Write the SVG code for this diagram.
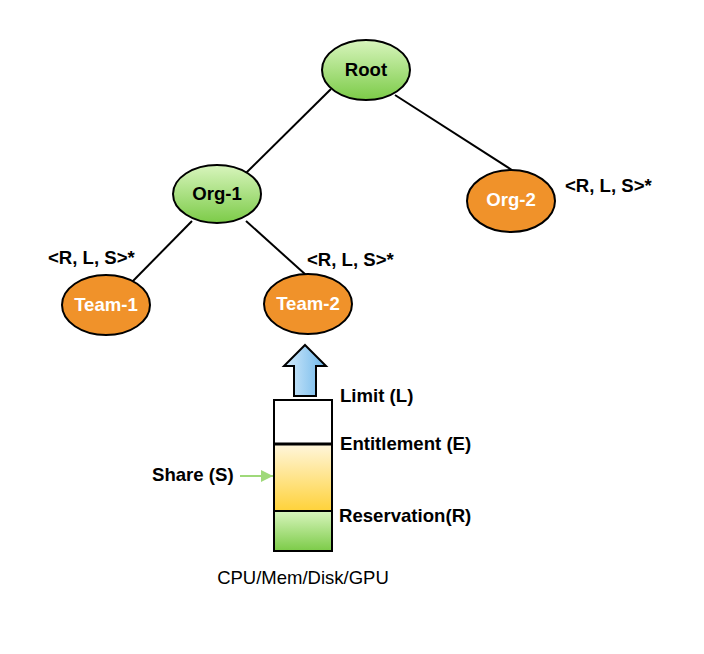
<svg xmlns="http://www.w3.org/2000/svg" width="704" height="654" viewBox="0 0 704 654">
<defs>
<linearGradient id="gGreen" x1="0" y1="0" x2="0" y2="1"><stop offset="0" stop-color="#d8f5bd"/><stop offset="1" stop-color="#7ccb48"/></linearGradient>
<linearGradient id="gYellow" x1="0" y1="0" x2="0" y2="1"><stop offset="0" stop-color="#fff6dc"/><stop offset="1" stop-color="#ffd23a"/></linearGradient>
<linearGradient id="gBlue" x1="0" y1="0" x2="1" y2="0"><stop offset="0" stop-color="#d6ecfb"/><stop offset="1" stop-color="#6db6ea"/></linearGradient>
<marker id="gArrow" viewBox="0 0 10 10" refX="10" refY="5" markerWidth="12" markerHeight="12" markerUnits="userSpaceOnUse" orient="auto"><path d="M0,0 L10,5 L0,10 z" fill="#9fd97a"/></marker>
</defs>
<style>
.node{stroke:#000;stroke-width:2}
.green{fill:url(#gGreen)}
.orange{fill:#f0922a}
.t{font-family:"Liberation Sans",Arial,sans-serif;font-size:18.6px;font-weight:bold}
.dark{fill:#000}
.white{fill:#fff}
.conn{stroke:#000;stroke-width:2;fill:none}
</style>
<rect width="704" height="654" fill="#fff"/>
<g id="connectors">
<line class="conn" x1="331" y1="89" x2="246" y2="173"/>
<line class="conn" x1="395" y1="95" x2="512" y2="170"/>
<line class="conn" x1="192" y1="221" x2="131" y2="283"/>
<line class="conn" x1="246" y1="221" x2="306" y2="275"/>
<line x1="240" y1="476" x2="273" y2="476" stroke="#9fd97a" stroke-width="2" marker-end="url(#gArrow)"/>
</g>
<g id="root"><ellipse class="node green" cx="366" cy="70" rx="44" ry="30"/><text class="t dark" x="366" y="76" text-anchor="middle">Root</text></g>
<g id="org1"><ellipse class="node green" cx="217" cy="194" rx="44" ry="29"/><text class="t dark" x="217" y="200" text-anchor="middle">Org-1</text></g>
<g id="org2"><ellipse class="node orange" cx="511" cy="201" rx="44" ry="31"/><text class="t white" x="511" y="206" text-anchor="middle">Org-2</text></g>
<g id="team1"><ellipse class="node orange" cx="106" cy="305" rx="44" ry="30"/><text class="t white" x="106" y="311" text-anchor="middle">Team-1</text></g>
<g id="team2"><ellipse class="node orange" cx="308" cy="304" rx="44" ry="30"/><text class="t white" x="308" y="310" text-anchor="middle">Team-2</text></g>
<g id="labels">
<text class="t dark" x="48" y="264">&lt;R, L, S&gt;*</text>
<text class="t dark" x="307" y="266">&lt;R, L, S&gt;*</text>
<text class="t dark" x="565" y="192">&lt;R, L, S&gt;*</text>
</g>
<g id="uparrow"><path d="M305,345 L326,366 L316,366 L316,396 L294,396 L294,366 L284,366 Z" fill="url(#gBlue)" stroke="#000" stroke-width="2" stroke-linejoin="miter"/></g>
<g id="column">
<rect x="274" y="400" width="58" height="44" fill="#fff" stroke="#000" stroke-width="2"/>
<rect x="274" y="444" width="58" height="67" fill="url(#gYellow)" stroke="#000" stroke-width="2"/>
<rect x="274" y="511" width="58" height="40" fill="url(#gGreen)" stroke="#000" stroke-width="2"/>
<line x1="274" y1="444" x2="332" y2="444" stroke="#000" stroke-width="3"/>
</g>
<g id="columnlabels">
<text class="t dark" x="340" y="402">Limit (L)</text>
<text class="t dark" x="340" y="450">Entitlement (E)</text>
<text class="t dark" x="339" y="522">Reservation(R)</text>
<text class="t dark" x="152" y="481">Share (S)</text>
<text x="303" y="584" text-anchor="middle" font-family="Liberation Sans,Arial,sans-serif" font-size="18.5" fill="#000">CPU/Mem/Disk/GPU</text>
</g>
</svg>
